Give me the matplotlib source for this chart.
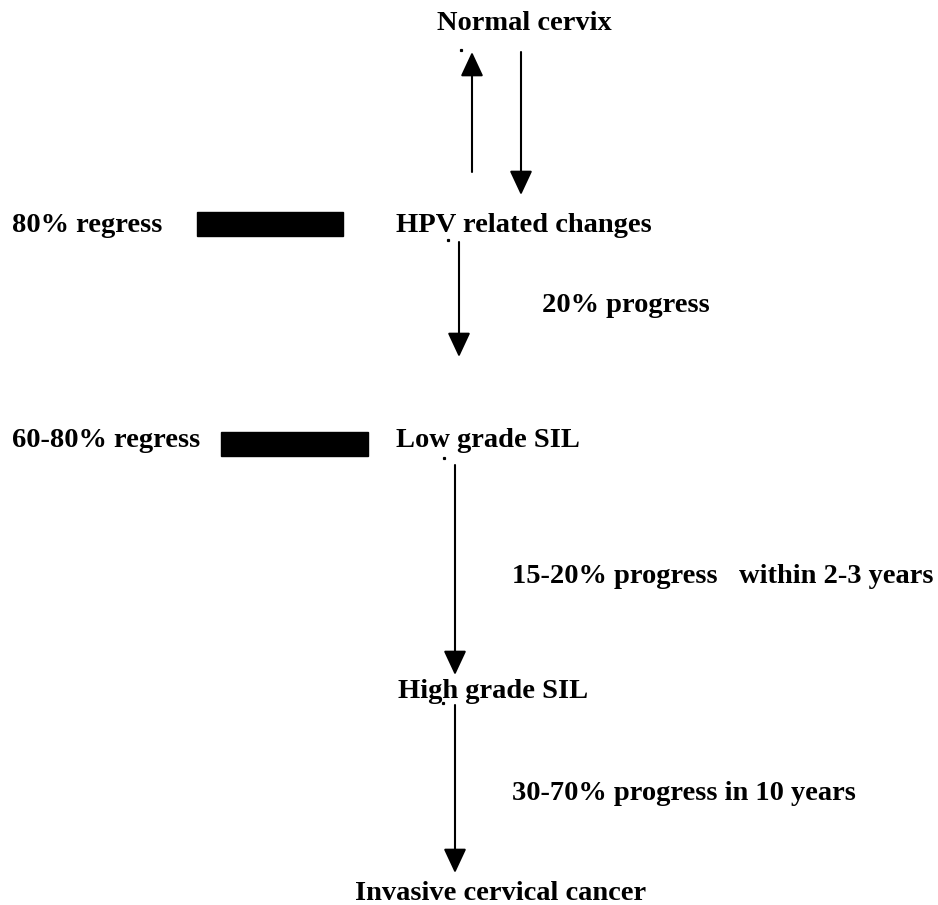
import matplotlib.pyplot as plt
from matplotlib.patches import Rectangle

# stages of the diagram, top to bottom
stages = ['Normal cervix', 'HPV related changes', 'Low grade SIL',
          'High grade SIL', 'Invasive cervical cancer']
regress_labels = ['80% regress', '60-80% regress']
progress_labels = ['20% progress', '15-20% progress   within 2-3 years',
                   '30-70% progress in 10 years']

# layout in pixel coordinates (y from top, text y = baseline)
stage_xy = [(524, 30), (524, 232), (488, 447), (493, 698), (501, 900)]
regress_xy = [(12, 232), (12, 447)]
bar_boxes = [(197, 212, 146, 24), (221, 432, 147, 24)]
progress_xy = [(542, 312), (512, 583), (512, 800)]
arrows = [  # x, y_start, y_end
    (472, 172, 52),
    (521, 52, 195),
    (459, 242, 357),
    (455, 465, 675),
    (455, 705, 873),
]
dots = [(461, 50), (448, 240), (444, 458), (443, 703)]

W, H = 938, 905
fig = plt.figure(figsize=(W / 100, H / 100), dpi=100)
ax = fig.add_axes([0, 0, 1, 1])
ax.set_xlim(0, W)
ax.set_ylim(H, 0)
ax.axis('off')

font = dict(family='Liberation Serif', weight='bold', fontsize=20.5, color='black')

for label, (x, y) in zip(stages, stage_xy):
    ax.text(x, y, label, ha='center', va='baseline', **font)
for label, (x, y) in zip(regress_labels, regress_xy):
    ax.text(x, y, label, ha='left', va='baseline', **font)
for label, (x, y) in zip(progress_labels, progress_xy):
    ax.text(x, y, label, ha='left', va='baseline', **font)

for x0, y0, w, h in bar_boxes:
    ax.add_patch(Rectangle((x0, y0), w, h, color='black'))

for x, y0, y1 in arrows:
    ax.annotate('', xy=(x, y1), xytext=(x, y0),
                arrowprops=dict(arrowstyle='-|>,head_length=1.5,head_width=0.7',
                                color='black', lw=1.5, shrinkA=0, shrinkB=0))

for x, y in dots:
    ax.plot(x, y, 's', color='black', markersize=1.3)

fig.savefig('out.png', dpi=100, facecolor='white')
